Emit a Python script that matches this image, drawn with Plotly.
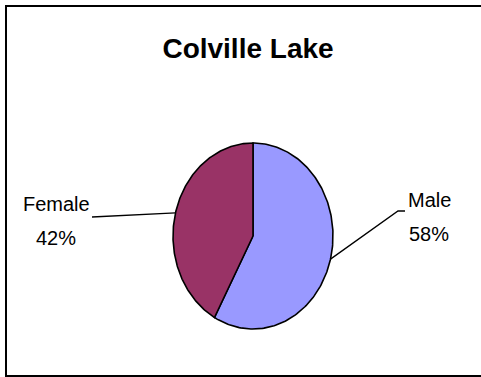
import numpy as np
import plotly.graph_objects as go

# ---- data ----
labels = ["Male", "Female"]
values = [58, 42]
colors = ["#9999FF", "#993366"]
title_text = "Colville Lake"

W, H = 481, 377
CX, CY = 253, 236      # pie centre in px
RX, RY = 80, 93        # ellipse radii in px

# axis ranges so that 1 unit = RX px horizontally, RY px vertically
xr = [(-CX) / RX, (W - CX) / RX]
yr = [(CY - H) / RY, CY / RY]

def px(x, y):
    return (x - CX) / RX, (CY - y) / RY

fig = go.Figure()

total = sum(values)
start = 90.0
mids = []
for lab, v, col in zip(labels, values, colors):
    sweep = 360.0 * v / total
    end = start - sweep
    th = np.radians(np.linspace(start, end, 200))
    xs = np.concatenate([[0], np.cos(th), [0]])
    ys = np.concatenate([[0], np.sin(th), [0]])
    fig.add_trace(go.Scatter(x=xs, y=ys, mode="lines", fill="toself",
                             fillcolor=col, line=dict(color="black", width=1.6),
                             hoverinfo="skip", showlegend=False))
    mid = np.radians((start + end) / 2)
    mids.append((np.cos(mid), np.sin(mid)))
    start = end

# leader lines (from slice mid-angle point on ellipse to label)
male_mid, female_mid = mids
e1 = px(398, 211); e2 = px(405, 211)
fig.add_trace(go.Scatter(x=[male_mid[0], e1[0], e2[0]], y=[male_mid[1], e1[1], e2[1]],
                         mode="lines", line=dict(color="black", width=1.3),
                         hoverinfo="skip", showlegend=False))
f1 = px(92, 217)
fig.add_trace(go.Scatter(x=[female_mid[0], f1[0]], y=[female_mid[1], f1[1]],
                         mode="lines", line=dict(color="black", width=1.3),
                         hoverinfo="skip", showlegend=False))

font = dict(family="Liberation Sans, Arial, sans-serif", size=20, color="black")
label_pos = {"Male": [(429, 200), (429, 234)], "Female": [(56, 204), (56, 238)]}
for lab, v in zip(labels, values):
    pct = round(100 * v / total)
    (x1, y1), (x2, y2) = label_pos[lab]
    a = px(x1, y1); b = px(x2, y2)
    fig.add_annotation(x=a[0], y=a[1], text=lab, showarrow=False, font=font,
                       xanchor="center", yanchor="middle")
    fig.add_annotation(x=b[0], y=b[1], text=f"{pct}%", showarrow=False, font=font,
                       xanchor="center", yanchor="middle")

# outer border
fig.add_shape(type="rect", xref="paper", yref="paper",
              x0=6 / W, x1=1.02, y0=1 - 376 / H, y1=1 - 6 / H,
              line=dict(color="black", width=2))

fig.update_layout(
    width=W, height=H, margin=dict(l=0, r=0, t=0, b=0),
    paper_bgcolor="white", plot_bgcolor="white",
    title=dict(text=f"<b>{title_text}</b>", x=248 / W, xanchor="center",
               y=1 - 48 / H, yanchor="middle",
               font=dict(family="Liberation Sans, Arial, sans-serif", size=28, color="black")),
    xaxis=dict(range=xr, visible=False, fixedrange=True),
    yaxis=dict(range=yr, visible=False, fixedrange=True),
    showlegend=False,
)

fig.write_html("out.html", config={"displayModeBar": False, "staticPlot": True},
               post_script="document.body.style.margin='0px';document.body.style.overflow='hidden';")
